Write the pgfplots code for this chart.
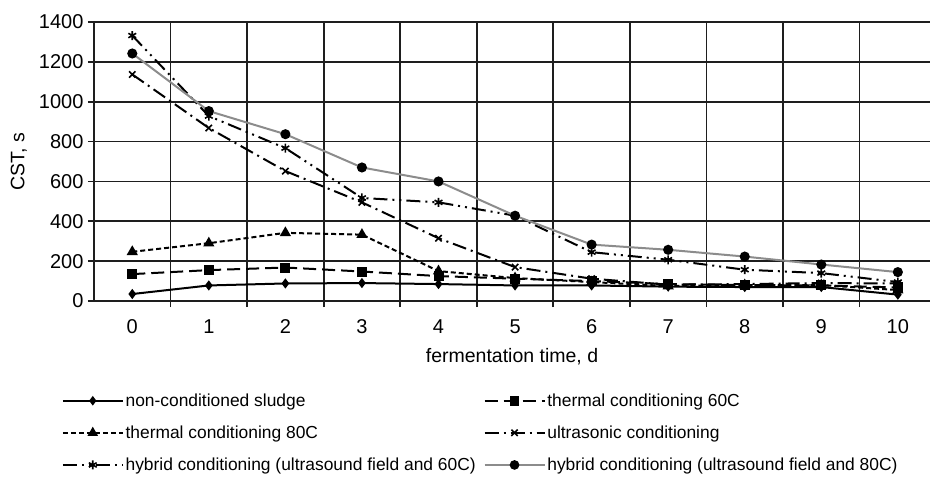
\documentclass[border=0pt]{standalone}
\usepackage{pgfplots}
\pgfplotsset{compat=1.18}
\usepackage{fontspec}
\setmainfont{Liberation Sans}
\definecolor{gridc}{HTML}{1E1E1E}
\definecolor{hyb}{HTML}{8C8C8C}
\begin{document}
\begin{tikzpicture}
\useasboundingbox (-94pt,-176pt) rectangle (836pt,301pt);
\begin{axis}[
  scale only axis,
  width=836pt, height=279pt,
  xmin=-0.5, xmax=10.42,
  ymin=0, ymax=1400,
  axis x line*=bottom, axis y line*=left,
  axis line style={-, gridc, line width=1.8pt},
  xtick={0,...,10},
  minor xtick={0.5,1.5,...,9.5},
  xminorgrids=true, xmajorgrids=false,
  ytick={0,200,...,1400},
  ymajorgrids=true,
  grid style={gridc, line width=1.8pt},
  minor grid style={gridc, line width=1.8pt},
  major x tick style={draw=none},
  minor x tick style={gridc, line width=1.8pt},
  y tick style={gridc, line width=1.8pt},
  tick align=outside,
  major tick length=6pt, minor tick length=6pt,
  /pgf/number format/assume math mode=true,
  /pgf/number format/set thousands separator={},
  tick label style={font=\fontsize{20}{24}\selectfont, black},
  yticklabel style={xshift=-1pt},
  xticklabel style={yshift=-9pt},
  xlabel={fermentation time, d},
  ylabel={CST, s},
  xlabel style={font=\fontsize{19.5}{23}\selectfont, at={(axis description cs:0.5,0)}, anchor=center, yshift=-56pt},
  ylabel style={font=\fontsize{19.5}{23}\selectfont, at={(axis description cs:-0.09,0.5)}, anchor=center, rotate=0},
  clip=false,
  legend columns=2,
  legend cell align=left,
  legend style={
    draw=none, fill=none,
    at={(axis description cs:-0.0383,-0.325)}, anchor=north west,
    font=\fontsize{17.4}{20}\selectfont,
    inner sep=0pt, outer sep=0pt,
    row sep=14pt,
    /tikz/column 2/.style={column sep=6pt},
    nodes={inner sep=2pt},
  },
  legend image code/.code={\draw[mark repeat=2,mark phase=2, line width=1.6pt] plot coordinates {(0pt,0pt) (30pt,0pt) (60pt,0pt)};},
]
% non-conditioned sludge
\addplot[black, line width=2pt, mark=diamond*, mark size=3.5pt, mark options={solid}]
 coordinates {(0,35) (1,78) (2,88) (3,90) (4,85) (5,78) (6,78) (7,72) (8,70) (9,70) (10,32)};
\addlegendentry{non-conditioned sludge}
% thermal 60C
\addplot[black, line width=2pt, dash pattern=on 13pt off 6pt, mark=square*, mark size=4pt, mark options={solid}]
 coordinates {(0,135) (1,155) (2,168) (3,148) (4,125) (5,112) (6,100) (7,85) (8,80) (9,78) (10,68)};
\addlegendentry{thermal conditioning 60C}
% thermal 80C
\addplot[black, line width=2pt, dash pattern=on 5pt off 3pt, mark=triangle*, mark size=4.5pt, mark options={solid}]
 coordinates {(0,247) (1,290) (2,342) (3,333) (4,150) (5,115) (6,95) (7,75) (8,80) (9,80) (10,55)};
\addlegendentry{thermal conditioning 80C}
% ultrasonic
\addplot[black, line width=2pt, dash pattern=on 14pt off 5pt on 2pt off 5pt, mark=x, mark size=4.5pt, mark options={solid, line width=1.6pt}]
 coordinates {(0,1137) (1,868) (2,652) (3,495) (4,315) (5,170) (6,112) (7,82) (8,85) (9,90) (10,88)};
\addlegendentry{ultrasonic conditioning}
% hybrid 60C
\addplot[black, line width=2pt, dash pattern=on 14pt off 5pt on 2pt off 5pt on 2pt off 5pt, mark=asterisk, mark size=4.5pt, mark options={solid, line width=1.6pt}]
 coordinates {(0,1332) (1,928) (2,767) (3,517) (4,495) (5,428) (6,245) (7,207) (8,157) (9,140) (10,95)};
\addlegendentry{hybrid conditioning (ultrasound field and 60C)}
% hybrid 80C
\addplot[hyb, line width=2pt, mark=*, mark size=4pt, mark options={black, solid}]
 coordinates {(0,1242) (1,953) (2,837) (3,670) (4,600) (5,428) (6,283) (7,257) (8,223) (9,183) (10,145)};
\addlegendentry{hybrid conditioning (ultrasound field and 80C)}
\end{axis}
\end{tikzpicture}
\end{document}
